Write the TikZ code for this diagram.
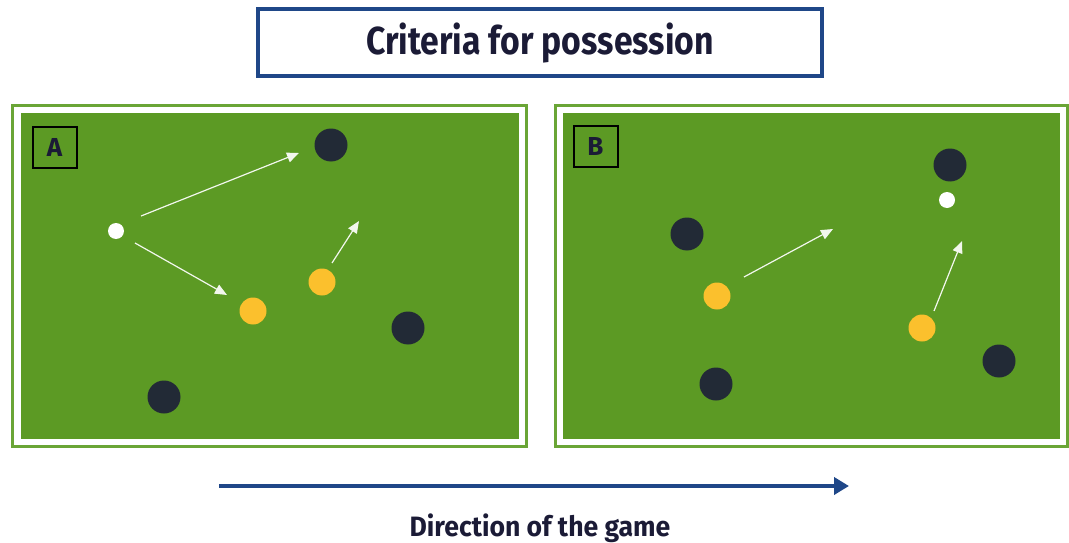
\documentclass[tikz,border=0pt]{standalone}
\usepackage{fontspec}
\setmainfont{Fira Sans}
\usetikzlibrary{arrows.meta}
\definecolor{field}{HTML}{5C9A24}
\definecolor{frame}{HTML}{6AA536}
\definecolor{navy}{HTML}{1F4788}
\definecolor{ink}{HTML}{1B1B36}
\definecolor{opp}{HTML}{222A36}
\definecolor{mate}{HTML}{FBC02D}
\tikzset{
  oppn/.style={circle,fill=opp,minimum size=33pt,inner sep=0pt},
  maten/.style={circle,fill=mate,minimum size=27pt,inner sep=0pt},
  balln/.style={circle,fill=white,minimum size=16pt,inner sep=0pt},
  run/.style={draw=white!92!field,line width=1.2pt,-{Triangle[length=12pt,width=10pt]}},
  lbl/.style={draw=black,line width=2pt,minimum width=44pt,minimum height=41pt,inner sep=0pt,text=ink,font=\bfseries\fontsize{26}{26}\selectfont},
  pitchframe/.style={draw=frame,line width=3pt},
}
\begin{document}
\begin{tikzpicture}[x=1pt,y=-1pt]
\useasboundingbox (0,0) rectangle (1069,543);
% title
\node[draw=navy,line width=4pt,minimum width=564pt,minimum height=67pt,inner sep=0pt] (title) at (540,42.5) {};
\node[text=ink,font=\bfseries\fontsize{39}{39}\selectfont] (titletext) at (540,43) {\scalebox{0.865}[1]{Criteria for possession}};
% panel A
\draw[pitchframe] (12.5,105.5) rectangle (526.5,446.5);
\fill[field] (21,113) rectangle (519,439);
\node[lbl] (la) at (54.5,147.5) {A};
\node[oppn] (a1) at (331,145) {};
\node[oppn] (a2) at (408,328) {};
\node[oppn] (a3) at (164,397) {};
\node[maten] (a4) at (253,311) {};
\node[maten] (a5) at (322,282) {};
\node[balln] (a6) at (116,231) {};
\coordinate (as1) at (141,216); \coordinate (ae1) at (299,153);
\coordinate (as2) at (135,243); \coordinate (ae2) at (227,295);
\coordinate (as3) at (332,263); \coordinate (ae3) at (359,221);
\draw[run] (as1) -- (ae1);
\draw[run] (as2) -- (ae2);
\draw[run] (as3) -- (ae3);
% panel B
\draw[pitchframe] (555.5,105.5) rectangle (1067.5,446.5);
\fill[field] (563,113) rectangle (1060,439);
\node[lbl] (lb) at (595.5,146) {B};
\node[oppn] (b1) at (950,165) {};
\node[oppn] (b2) at (687,234) {};
\node[oppn] (b3) at (716,384) {};
\node[oppn] (b4) at (999,361) {};
\node[maten] (b5) at (717,296) {};
\node[maten] (b6) at (922,328) {};
\node[balln] (b7) at (947,200) {};
\coordinate (bs1) at (744,277); \coordinate (be1) at (833,229);
\coordinate (bs2) at (934,311); \coordinate (be2) at (962,241);
\draw[run] (bs1) -- (be1);
\draw[run] (bs2) -- (be2);
% direction
\coordinate (ds) at (219,486); \coordinate (de) at (849,486);
\draw[navy,line width=4pt,-{Triangle[length=15pt,width=17pt]}] (ds) -- (de);
\node[text=ink,font=\bfseries\fontsize{28}{28}\selectfont] (dir) at (540,528) {\scalebox{0.95}[1]{Direction of the game}};
\end{tikzpicture}
\end{document}
